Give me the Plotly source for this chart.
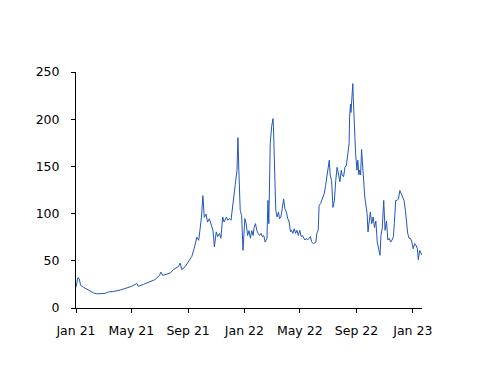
import plotly.graph_objects as go

dates = [
    "2021-01-01", "2021-01-05", "2021-01-08", "2021-01-11", "2021-01-17", "2021-01-24", "2021-01-31",
    "2021-02-08", "2021-02-15", "2021-02-22", "2021-03-05", "2021-03-12", "2021-03-23", "2021-04-07",
    "2021-04-21", "2021-05-02", "2021-05-13", "2021-05-16", "2021-05-27", "2021-06-11", "2021-06-21",
    "2021-07-01", "2021-07-04", "2021-07-08", "2021-07-15", "2021-07-24", "2021-07-31", "2021-08-11",
    "2021-08-15", "2021-08-18", "2021-08-26", "2021-09-02", "2021-09-09", "2021-09-14", "2021-09-17",
    "2021-09-20", "2021-09-24", "2021-09-27", "2021-09-30", "2021-10-03", "2021-10-06", "2021-10-10",
    "2021-10-13", "2021-10-17", "2021-10-20", "2021-10-25", "2021-10-28", "2021-11-01", "2021-11-04",
    "2021-11-08", "2021-11-11", "2021-11-15", "2021-11-18", "2021-11-23", "2021-11-26", "2021-11-30",
    "2021-12-03", "2021-12-06", "2021-12-09", "2021-12-12", "2021-12-16", "2021-12-18", "2021-12-20",
    "2021-12-22", "2021-12-23", "2021-12-26", "2021-12-29", "2022-01-02", "2022-01-05", "2022-01-08",
    "2022-01-11", "2022-01-14", "2022-01-17", "2022-01-20", "2022-01-22", "2022-01-25", "2022-01-28",
    "2022-01-31", "2022-02-03", "2022-02-06", "2022-02-09", "2022-02-12", "2022-02-15", "2022-02-19",
    "2022-02-21", "2022-02-23", "2022-02-26", "2022-03-01", "2022-03-04", "2022-03-05", "2022-03-07",
    "2022-03-08", "2022-03-10", "2022-03-13", "2022-03-16", "2022-03-18", "2022-03-21", "2022-03-24",
    "2022-03-27", "2022-03-30", "2022-04-02", "2022-04-05", "2022-04-08", "2022-04-11", "2022-04-13",
    "2022-04-16", "2022-04-19", "2022-04-22", "2022-04-25", "2022-04-28", "2022-05-01", "2022-05-04",
    "2022-05-07", "2022-05-10", "2022-05-12", "2022-05-15", "2022-05-18", "2022-05-21", "2022-05-24",
    "2022-05-27", "2022-05-31", "2022-06-05", "2022-06-07", "2022-06-10", "2022-06-12", "2022-06-15",
    "2022-06-18", "2022-06-20", "2022-06-23", "2022-06-26", "2022-07-01", "2022-07-04", "2022-07-06",
    "2022-07-09", "2022-07-12", "2022-07-15", "2022-07-18", "2022-07-21", "2022-07-24", "2022-07-27",
    "2022-07-30", "2022-08-01", "2022-08-04", "2022-08-07", "2022-08-10", "2022-08-13", "2022-08-16",
    "2022-08-17", "2022-08-19", "2022-08-20", "2022-08-22", "2022-08-24", "2022-08-25", "2022-08-27",
    "2022-08-28", "2022-08-30", "2022-09-02", "2022-09-04", "2022-09-06", "2022-09-08", "2022-09-10",
    "2022-09-12", "2022-09-15", "2022-09-17", "2022-09-19", "2022-09-21", "2022-09-24", "2022-09-26",
    "2022-10-01", "2022-10-04", "2022-10-07", "2022-10-10", "2022-10-13", "2022-10-16", "2022-10-19",
    "2022-10-22", "2022-10-24", "2022-10-27", "2022-10-30", "2022-11-02", "2022-11-05", "2022-11-08",
    "2022-11-11", "2022-11-14", "2022-11-17", "2022-11-20", "2022-11-22", "2022-11-25", "2022-11-28",
    "2022-12-01", "2022-12-04", "2022-12-07", "2022-12-10", "2022-12-13", "2022-12-16", "2022-12-18",
    "2022-12-21", "2022-12-24", "2022-12-27", "2022-12-30", "2023-01-02", "2023-01-05", "2023-01-08",
    "2023-01-11", "2023-01-13", "2023-01-16", "2023-01-19", "2023-01-21",
]

values = [
    22, 32, 31, 24, 22, 20, 18,
    16, 15, 15, 15.5, 17, 17.5, 19,
    21, 23, 26, 23, 25, 27.5, 30,
    34.6, 38, 34.6, 35.6, 37, 40.6, 44,
    47.6, 40.6, 44, 49.8, 54.7, 62.8, 70,
    75, 71.7, 82, 96, 119, 96, 99.5,
    91, 94.6, 89.4, 82, 64.7, 80.7, 75.6,
    79, 73.8, 96.4, 91.1, 96.4, 93, 94.7,
    93, 103.5, 114, 130, 146, 180.5, 146,
    121, 103.5, 98, 61.1, 94.7, 89.4, 76.8,
    82, 73.8, 82, 76.8, 85.3, 89.4, 82,
    79, 76.8, 79, 75.6, 76.8, 69.8, 73.8,
    114, 89.4, 174, 192, 200.6, 192, 157,
    121, 103.5, 96.4, 101.7, 94.6, 96.4, 105,
    115.6, 105, 101.7, 94.6, 91.1, 80.7, 82.3,
    79, 84, 79, 82.3, 76.8, 82.3, 75.6,
    76.8, 73.8, 72, 73.8, 72, 73.8, 75.6,
    69.8, 68.2, 69.8, 79, 82.3, 108.8, 110.5,
    114, 117.4, 121, 129.7, 146, 156.5, 141,
    135, 106.5, 113.6, 135, 149, 142, 133.7,
    146, 141, 139, 149, 151, 162, 174,
    202, 216, 207, 227, 237.7, 223, 199,
    178, 164, 146, 156.5, 141, 146, 141,
    168, 146, 128, 117.5, 110.5, 100, 80.6,
    101.7, 89.4, 96.4, 85.3, 92, 69.8, 62.8,
    55.8, 76.8, 85.3, 114, 82.3, 92, 72,
    73.8, 69.8, 72, 75.6, 89.4, 114, 114,
    115.6, 124.5, 121, 117.4, 114, 103.5, 92,
    79, 73.8, 73.8, 69.8, 62.8, 68.2, 66.5,
    62.8, 51.2, 61, 58.3, 55.8,
]

x_tick_vals = ["2021-01-01", "2021-05-01", "2021-09-01", "2022-01-01", "2022-05-01", "2022-09-01", "2023-01-01"]
x_tick_text = ["Jan 21", "May 21", "Sep 21", "Jan 22", "May 22", "Sep 22", "Jan 23"]
y_tick_vals = [0, 50, 100, 150, 200, 250]

fig = go.Figure(
    go.Scatter(x=dates, y=values, mode="lines",
               line=dict(color="#2257b8", width=1), showlegend=False)
)

axis_font = dict(family="DejaVu Sans", size=12.5, color="#000000")

fig.update_layout(
    width=500, height=386,
    margin=dict(l=68, r=86, t=64, b=86, autoexpand=False),
    paper_bgcolor="white", plot_bgcolor="white",
    xaxis=dict(
        type="date", range=["2021-01-01", "2023-01-21"],
        tickvals=x_tick_vals, ticktext=x_tick_text,
        showgrid=False, zeroline=False,
        showline=True, linecolor="black", linewidth=1,
        ticks="outside", ticklen=4, tickcolor="black",
        tickfont=axis_font, ticklabelstandoff=7,
    ),
    yaxis=dict(
        range=[0, 250], tickvals=y_tick_vals,
        showgrid=False, zeroline=False,
        showline=True, linecolor="black", linewidth=1,
        ticks="outside", ticklen=4, tickcolor="black",
        tickfont=axis_font, ticklabelstandoff=9,
    ),
)

fig.write_html("out.html")
